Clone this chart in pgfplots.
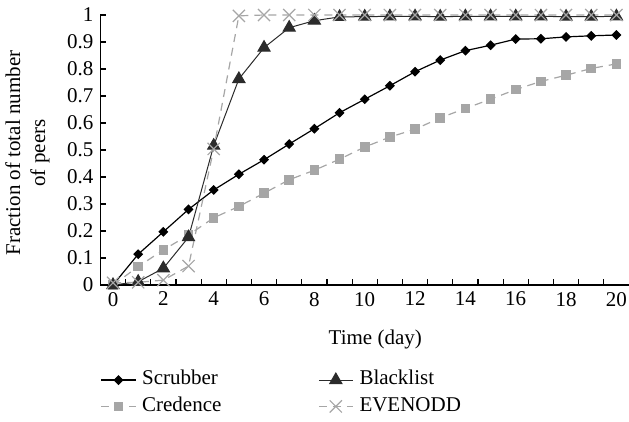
\documentclass[border=0pt,10pt]{standalone}
\usepackage{fontspec}
\setmainfont{Liberation Serif}
\usepackage{pgfplots}
\pgfplotsset{compat=1.18}
\definecolor{lgray}{HTML}{A6A6A6}
\definecolor{dgray}{HTML}{2B2B2B}
\pgfplotsset{
  scrubst/.style={color=black, line width=0.6pt, mark=square*, mark size=1.45pt, mark options={solid, fill=black, rotate=45}},
  blistst/.style={color=dgray, line width=0.5pt, mark=triangle*, mark size=3.5pt, mark options={solid, fill=dgray}},
  credst/.style={color=lgray, line width=0.6pt, dash pattern=on 4pt off 3pt, mark=square*, mark size=2.1pt, mark options={solid, fill=lgray, draw=lgray}},
  evenst/.style={color=lgray, line width=0.6pt, dash pattern=on 4pt off 3pt, mark=x, mark size=4.3pt, mark options={solid, line width=0.6pt}},
}
\begin{document}
\begin{tikzpicture}[font=\fontsize{10.5}{12.6}\selectfont]
\begin{axis}[
  scale only axis,
  width=264.3pt, height=135pt,
  xmin=-0.5, xmax=20.5, ymin=0, ymax=1,
  axis x line*=bottom, axis y line*=left,
  axis line style={line width=0.7pt},
  clip=false,
  tick align=inside,
  xtick={0,2,...,20},
  major x tick style={draw=none},
  minor xtick={0.5,1.5,...,19.5},
  minor tick length=3pt,
  major tick length=3pt,
  tick style={color=black, line width=0.6pt},
  ytick={0,0.1,...,1.01},
  yticklabel style={/pgf/number format/fixed, /pgf/number format/precision=1},
  /pgf/number format/assume math mode=true,
  xlabel={Time (day)},
  ylabel={Fraction of total number\\of peers},
  every axis x label/.style={at={(axis description cs:0.52,-0.2)}, anchor=center},
  every axis y label/.style={at={(axis description cs:-0.138,0.489)}, rotate=90, anchor=center, align=center},
  legend columns=2,
  legend cell align=left,
  legend style={at={(rel axis cs:0.0,-0.315)}, anchor=north west, draw=none, fill=none,
    inner sep=0pt, row sep=3.6pt,
    nodes={text width=85pt, inner xsep=3pt, inner ysep=0pt, text height=7.2pt, text depth=2.4pt}},
]
\addplot[scrubst, forget plot] coordinates {
(0,0) (1,0.114) (2,0.197) (3,0.28) (4,0.352) (5,0.41) (6,0.464) (7,0.522) (8,0.579) (9,0.638)
(10,0.688) (11,0.738) (12,0.79) (13,0.833) (14,0.868) (15,0.888) (16,0.911) (17,0.912) (18,0.919) (19,0.923) (20,0.926)};
\addplot[credst, forget plot] coordinates {
(0,0) (1,0.068) (2,0.13) (3,0.185) (4,0.249) (5,0.291) (6,0.34) (7,0.39) (8,0.425) (9,0.466)
(10,0.511) (11,0.548) (12,0.577) (13,0.619) (14,0.654) (15,0.688) (16,0.724) (17,0.754) (18,0.777) (19,0.802) (20,0.819)};
\addplot[blistst, forget plot] coordinates {
(0,0) (1,0.012) (2,0.062) (3,0.177) (4,0.516) (5,0.763) (6,0.879) (7,0.953) (8,0.979) (9,0.993)
(10,0.994) (11,0.995) (12,0.995) (13,0.994) (14,0.995) (15,0.995) (16,0.995) (17,0.995) (18,0.994) (19,0.994) (20,0.995)};
\addplot[evenst, forget plot] coordinates {
(0,0.008) (1,0.01) (2,0.018) (3,0.07) (4,0.504) (5,0.997) (6,1) (7,1) (8,1) (9,1)
(10,1) (11,1) (12,1) (13,1) (14,1) (15,1) (16,1) (17,1) (18,1) (19,1) (20,1)};
\addlegendimage{scrubst}
\addlegendentry{Scrubber}
\addlegendimage{blistst}
\addlegendentry{Blacklist}
\addlegendimage{credst}
\addlegendentry{Credence}
\addlegendimage{evenst}
\addlegendentry{EVENODD}
\coordinate (BL) at (rel axis cs:-0.19,-0.5074);
\coordinate (TR) at (rel axis cs:1.0,1.0556);
\end{axis}
\pgfresetboundingbox
\useasboundingbox (BL) rectangle (TR);
\end{tikzpicture}
\end{document}
